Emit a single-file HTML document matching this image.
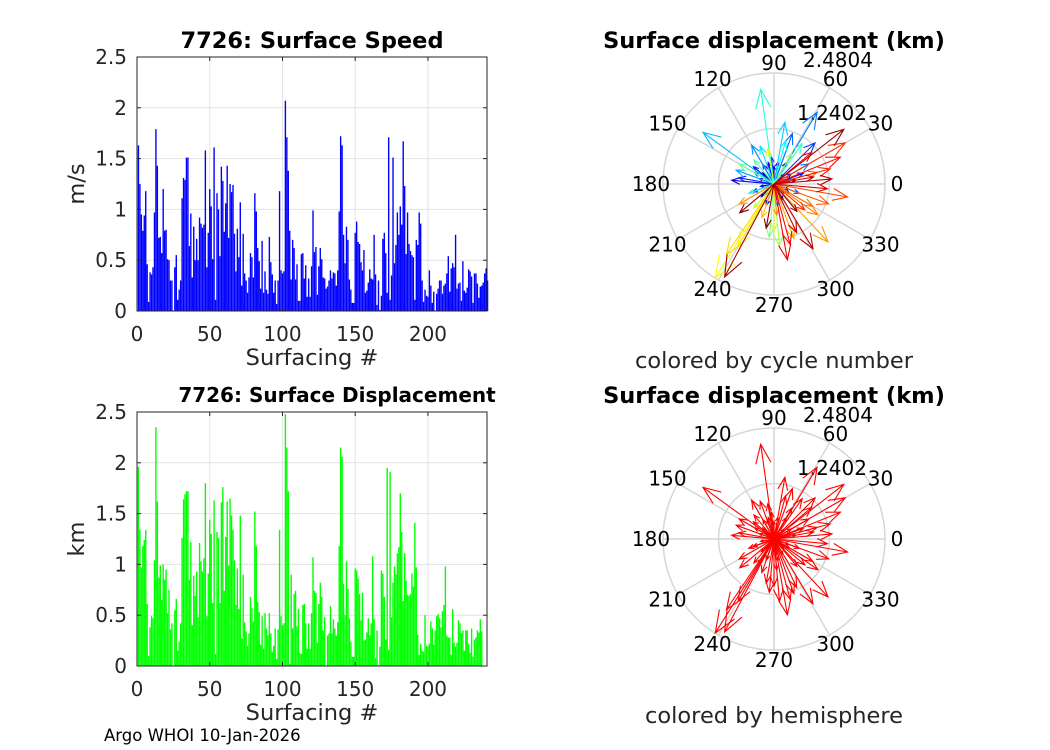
<!DOCTYPE html>
<html><head><meta charset="utf-8"><style>
html,body{margin:0;padding:0;background:#fff;}
svg{display:block;font-family:"DejaVu Sans","Liberation Sans",sans-serif;}
</style></head><body>
<svg id="fig" width="1050" height="750" viewBox="0 0 1050 750" xmlns="http://www.w3.org/2000/svg">
<rect width="1050" height="750" fill="#fff"/>
<text x="312" y="48" font-size="22.5" font-weight="bold" text-anchor="middle">7726: Surface Speed</text>
<text x="337" y="402" font-size="20" font-weight="bold" text-anchor="middle">7726: Surface Displacement</text>
<text x="774" y="48" font-size="22.5" font-weight="bold" text-anchor="middle">Surface displacement (km)</text>
<text x="774" y="403" font-size="22.5" font-weight="bold" text-anchor="middle">Surface displacement (km)</text>
<text x="84" y="184" font-size="22.5" fill="#262626" text-anchor="middle" transform="rotate(-90 84 184)">m/s</text>
<text x="84" y="539" font-size="22.5" fill="#262626" text-anchor="middle" transform="rotate(-90 84 539)">km</text>
<text x="312" y="365" font-size="22.5" fill="#262626" text-anchor="middle">Surfacing #</text>
<text x="312" y="720" font-size="22.5" fill="#262626" text-anchor="middle">Surfacing #</text>
<text x="774" y="368" font-size="22.5" fill="#262626" text-anchor="middle">colored by cycle number</text>
<text x="774" y="723" font-size="22.5" fill="#262626" text-anchor="middle">colored by hemisphere</text>
<text x="104" y="741" font-size="16.5" fill="#000">Argo WHOI 10-Jan-2026</text>
</svg>
<script>
const speedValues=[1.63,1.25,0.95,0.79,0.94,1.18,0.46,0.09,0.38,0.36,0.43,0.97,1.79,1.43,0.72,0.73,0.57,1.2,0.79,0.80,0.51,0.50,0.30,0.30,0,0.43,0.55,0.11,0.21,0.30,1.11,1.31,1.29,1.51,1.51,0.64,0.96,0.33,0.83,0.50,0.71,0.50,0.92,0.86,0.82,0.85,1.58,0.43,0.77,1.2,1.03,0.51,1.61,0.11,1.16,1.0,0.54,1.42,1.28,0.78,1.06,1.43,0.72,1.25,1.17,1.24,0.76,0.39,0.81,0.53,1.07,0.25,0.76,0.37,0.30,0.18,0.33,0.57,0.53,0.33,1.16,0.98,0.62,0.49,0.22,0.69,0.18,0.39,0.21,0.17,0.73,0.48,0.36,0.18,0.30,0.07,0.30,1.18,0.40,0.37,0.39,2.07,1.71,1.38,0.79,0.31,0.70,0.62,0.31,0.46,0.10,0.10,0.56,0.57,0.32,0.45,0.14,0.32,0.14,0.44,0.99,0.58,0.63,0.16,0.44,0.62,0.51,0.33,0.32,0.22,0.24,0.30,0.40,0.32,0.38,0.37,0.25,0.40,0.98,1.72,1.63,0.75,0.47,0.83,0.70,0.31,0.21,0.08,0.08,0.77,0.88,0.68,0.66,0.48,0.40,0.60,0.18,0.20,0.28,0.41,0.32,0.31,0.75,0.36,0.06,0.30,0.01,0.15,0.71,0.77,0.57,0.18,1.71,0.11,0.35,1.51,0.47,0.65,0.97,0.75,1.03,0.85,1.67,1.23,0.56,0.97,0.66,0.59,0.55,0.53,0.11,0.70,0.65,0.97,0.86,0.30,0.09,0.21,0.15,0.14,0.40,0.25,0.08,0.19,0,0.17,0.22,0.30,0.30,0.17,0.25,0.27,0.37,0.54,0.19,0.42,0.47,0.43,0.75,0.22,0.27,0.28,0.10,0.49,0.20,0.18,0.23,0.41,0.39,0.34,0.08,0.37,0.37,0.27,0.13,0.24,0.25,0.28,0.37,0.42,0.30];
const dispValues=[1.96,1.34,0.97,1.18,1.24,1.34,0.61,0.10,0.38,0.49,0.47,1.04,2.35,1.62,0.87,0.99,0.65,1.0,0.85,0.95,0.52,0.75,0.36,0.42,0,0.55,0.66,0.15,0.24,0.42,1.26,1.64,1.69,1.72,1.72,0.85,1.22,0.40,0.89,0.69,0.93,0.48,1.21,1.03,0.93,1.06,1.8,0.49,0.91,1.44,1.30,0.62,1.63,0.12,1.32,1.26,0.62,1.61,1.76,0.74,1.27,1.62,0.99,1.65,1.48,1.34,1.04,0.60,0.96,0.56,1.48,0.27,0.90,0.43,0.34,0.20,0.32,0.68,0.57,0.44,1.52,1.18,0.63,0.53,0.21,0.49,0.17,0.52,0.37,0.30,0.52,0.32,0.14,0.20,0.37,0.07,0.36,1.34,0.49,0.40,0.42,2.48,2.15,1.72,0.02,0.90,0.37,0.71,0.74,0.39,0.56,0.13,0.12,0.60,0.61,0.42,0.17,0.42,0.17,0.52,1.07,0.74,0.72,0.23,0.61,0.82,0.68,0.35,0.48,0.0,0.30,0.32,0.59,0.32,0.46,0.37,0.30,0.43,1.18,2.15,2.06,0.81,0.50,1.03,0.76,0.47,0.24,0.09,0.09,0.96,0.94,0.86,0.71,0.45,0.72,0.25,0.26,0.33,0.47,0.30,0.42,1.08,0.46,0.08,0.35,0.01,0.19,0.94,0.91,0.68,0.26,1.95,0.16,1.91,0.48,0.82,0.98,0.90,1.11,1.17,1.70,1.32,0.64,1.11,0.84,0.70,0.69,0.71,0.91,0.78,1.41,0.97,0.31,0.11,0.22,0.15,0.14,0.50,0.20,0.19,0.22,0.44,0.37,0.21,0.35,0.49,0.51,0.47,0.38,0.54,0.60,0.98,0.30,0.28,0.28,0.11,0.56,0.23,0.19,0.23,0.45,0.42,0.32,0.35,0.15,0.35,0.35,0.22,0.13,0.37,0.09,0.26,0.28,0.35,0.33,0.46,0.34];
const yTickLabels=["0","0.5","1","1.5","2","2.5"];
const xTickLabels=["0","50","100","150","200"];
const angleLabels=["0","30","60","90","120","150","180","210","240","270","300","330"];
const radiusLabels=["1.2402","2.4804"];
const arrowCycle=[1,2,3,4,5,6,7,8,9,10,11,12,13,14,15,16,18,20,22,25,27,28,30,32,33,35,38,40,42,45,48,50,52,55,58,60,60,62,65,70,75,80,85,90,95,100,105,110,115,120,125,130,135,140,145,150,155,160,165,170,175,175,178,180,185,188,190,195,200,200,205,210,210,212,215,220,222,225,228,230,232,235,236,238,240];
const arrowAngle=[270,300,135,10,45,90,315,200,250,160,20,110,190,60,340,230,225,200,80,250,30,190,175,105,140,20,330,170,120,45,95,340,200,70,150,30,59,280,120,160,144,80,110,75,200,98,55,130,150,265,60,275,230,270,100,238,240,236,250,290,313,210,275,325,330,15,340,350,30,320,15,22,285,40,280,355,10,301,295,5,242,38,310,220,260];
const arrowLen=[0.25,0.4,0.35,0.5,0.3,0.4,0.3,0.5,0.5,0.35,0.4,0.45,0.3,0.55,0.35,0.3,0.4,0.5,0.5,0.5,0.45,0.3,0.95,0.5,0.6,0.7,0.4,0.8,0.5,1.3,0.6,0.6,0.5,1.2,0.5,0.9,1.87,0.5,1.0,0.9,1.96,1.4,0.9,1.0,0.6,2.14,1.1,0.7,0.9,1.2,0.8,1.4,0.7,1.05,0.8,2.48,1.6,1.9,0.8,1.3,1.77,0.9,0.7,1.2,1.0,1.0,1.3,1.67,1.84,0.9,1.3,1.6,1.4,1.1,1.72,1.2,0.9,1.69,1.2,1.3,2.35,1.98,0.8,1.0,1.0];
const NS="http://www.w3.org/2000/svg";
const svg=document.getElementById('fig');
function el(tag,attrs,parent){const e=document.createElementNS(NS,tag);for(const k in attrs)e.setAttribute(k,attrs[k]);(parent||svg).appendChild(e);return e;}
function barChart(values,top,color,prefix){
  const x0=137,x1=487,y0=top+254,y1=top;
  const xs=v=>x0+(v/240.6)*(x1-x0);
  const ys=v=>y0-(v/2.5)*(y0-y1);
  const g=el('g',{});
  
  
  for(let i=0;i<yTickLabels.length;i++){const y=ys(i*0.5);
    const gl=el('line',{x1:x0,x2:x1,y1:y,y2:y,stroke:'#e3e3e3','stroke-width':1},g);
    }
  for(let i=0;i<xTickLabels.length;i++){const x=xs(i*50);
    const gl=el('line',{x1:x,x2:x,y1:y0,y2:y1,stroke:'#e3e3e3','stroke-width':1},g);
    }
  values.forEach((v,i)=>{const cx=xs(i+1);const w=0.95*(x1-x0)/240.6;
    const r=el('rect',{x:cx-w/2,y:ys(v),width:w,height:y0-ys(v),fill:color},g);
    
    });
  const box=el('rect',{x:x0,y:y1,width:x1-x0,height:y0-y1,fill:'none',stroke:'#262626','stroke-width':1},g);
  
  yTickLabels.forEach((t,i)=>{const y=ys(i*0.5);
    el('line',{x1:x0,x2:x0+4,y1:y,y2:y,stroke:'#262626'},g);el('line',{x1:x1,x2:x1-4,y1:y,y2:y,stroke:'#262626'},g);
    const tx=el('text',{x:127,y:y+7,'font-size':20,fill:'#262626','text-anchor':'end'},g);tx.textContent=t;
    });
  xTickLabels.forEach((t,i)=>{const x=xs(i*50);
    el('line',{x1:x,x2:x,y1:y0,y2:y0-4,stroke:'#262626'},g);el('line',{x1:x,x2:x,y1:y1,y2:y1+4,stroke:'#262626'},g);
    const tx=el('text',{x:x,y:y0+30,'font-size':20,fill:'#262626','text-anchor':'middle'},g);tx.textContent=t;
    });
}
barChart(speedValues,57,'#0000ff','speed');
barChart(dispValues,412,'#00ff00','displacement');
function jet(t){const c=v=>Math.round(255*Math.max(0,Math.min(1,v)));
  return 'rgb('+c(1.5-Math.abs(4*t-3))+','+c(1.5-Math.abs(4*t-2))+','+c(1.5-Math.abs(4*t-1))+')';}
function polar(cx,cy,prefix,colorFn){
  const R=111,rmax=2.4804;
  const g=el('g',{});
  
  
  [0.5,1].forEach(f=>{const c=el('circle',{cx:cx,cy:cy,r:R*f,fill:'none',stroke:'#d6d6d6','stroke-width':1.5},g);
    });
  angleLabels.forEach((t,i)=>{const a=i*30*Math.PI/180;
    const s=el('line',{x1:cx,y1:cy,x2:cx+R*Math.cos(a),y2:cy-R*Math.sin(a),stroke:'#d6d6d6','stroke-width':1.5},g);
    
    const tx=el('text',{x:cx+123*Math.cos(a),y:cy-121*Math.sin(a)+7,'font-size':20,fill:'#000','text-anchor':'middle'},g);tx.textContent=t;
    });
  const r1=el('text',{x:cx+23,y:cy-64,'font-size':20,fill:'#000'},g);r1.textContent=radiusLabels[0];
  
  const r2=el('text',{x:cx+29,y:cy-117,'font-size':20,fill:'#000'},g);r2.textContent=radiusLabels[1];
  
  arrowCycle.forEach((cyc,i)=>{const a=arrowAngle[i]*Math.PI/180,L=arrowLen[i]/rmax*R;
    const ca=Math.cos(a),sa=Math.sin(a);
    const P=(u,v)=>[cx+(u*ca-v*sa)*L,cy-(u*sa+v*ca)*L];
    const pts=[P(0,0),P(1,0),P(0.8,0.08),P(1,0),P(0.8,-0.08)].map(p=>p[0].toFixed(1)+','+p[1].toFixed(1)).join(' ');
    const pl=el('polyline',{points:pts,fill:'none',stroke:colorFn(cyc),'stroke-width':1.1},g);
    
    });
}
polar(774,184,'cycle',c=>jet((c-1)/240));
polar(774,539,'hemisphere',c=>'#ff0000');
</script>
</body></html>
